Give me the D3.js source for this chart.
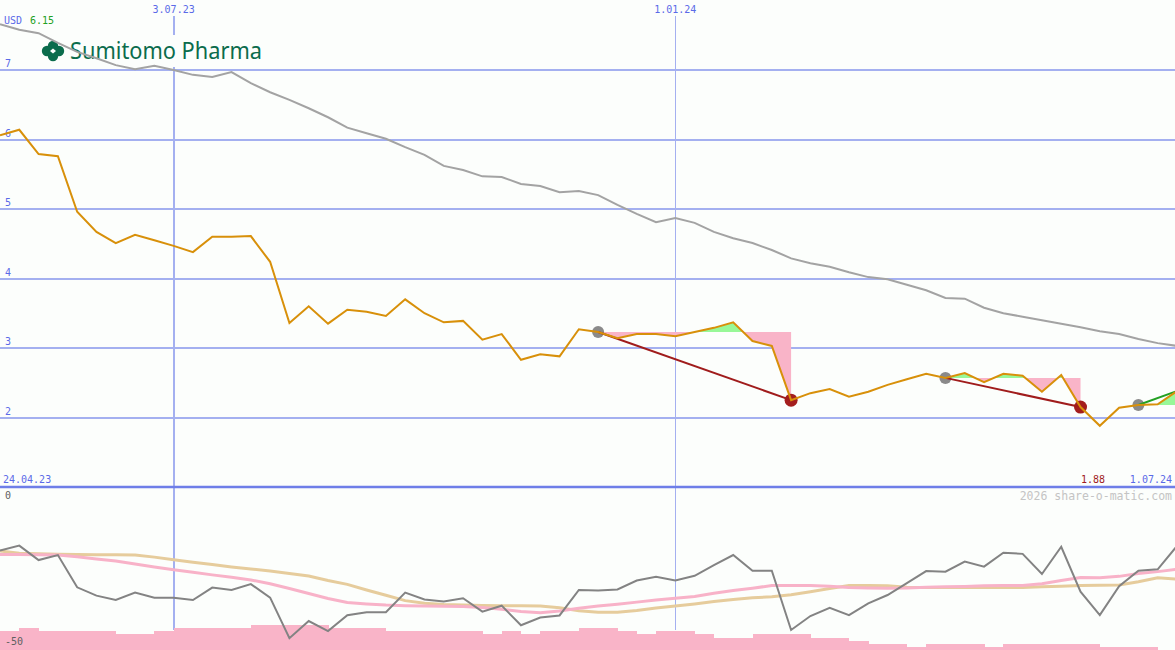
<!DOCTYPE html>
<html>
<head>
<meta charset="utf-8">
<script src="https://cdn.jsdelivr.net/npm/d3@7"></script>
<style>
  html, body { margin: 0; padding: 0; background: #fcfefc; }
  svg { display: block; }
  text { font-family: "DejaVu Sans Mono", monospace; }
</style>
</head>
<body>
<svg id="chart" width="1175" height="650"></svg>
<script>
// ---------- DATA ----------
const dates = ["2023-05-01","2023-05-08","2023-05-15","2023-05-22","2023-05-29","2023-06-05","2023-06-12","2023-06-19","2023-06-26",
"2023-07-03","2023-07-10","2023-07-17","2023-07-24","2023-07-31","2023-08-07","2023-08-14","2023-08-21","2023-08-28",
"2023-09-04","2023-09-11","2023-09-18","2023-09-25","2023-10-02","2023-10-09","2023-10-16","2023-10-23","2023-10-30",
"2023-11-06","2023-11-13","2023-11-20","2023-11-27","2023-12-04","2023-12-11","2023-12-18","2023-12-25",
"2024-01-01","2024-01-08","2024-01-15","2024-01-22","2024-01-29","2024-02-05","2024-02-12","2024-02-19","2024-02-26",
"2024-03-04","2024-03-11","2024-03-18","2024-03-25","2024-04-01","2024-04-08","2024-04-15","2024-04-22","2024-04-29",
"2024-05-06","2024-05-13","2024-05-20","2024-05-27","2024-06-03","2024-06-10","2024-06-17","2024-06-24","2024-07-01"];

const price = [6.06,6.14,5.79,5.76,4.96,4.67,4.51,4.63,4.55,4.47,4.38,4.60,4.60,4.61,4.24,3.36,3.60,3.35,3.55,3.52,
3.46,3.70,3.50,3.37,3.39,3.12,3.20,2.83,2.91,2.88,3.27,3.23,3.14,3.20,3.20,3.17,3.23,3.29,3.37,3.10,
3.03,2.25,2.35,2.41,2.30,2.37,2.47,2.55,2.63,2.57,2.64,2.51,2.63,2.60,2.37,2.61,2.15,1.88,2.14,2.18,2.19,2.38];

const movingAvg = [7.66,7.58,7.53,7.39,7.26,7.17,7.07,7.01,7.06,7.00,6.93,6.90,6.97,6.81,6.68,6.57,6.45,6.32,6.17,6.09,
6.01,5.89,5.78,5.62,5.56,5.47,5.46,5.36,5.33,5.24,5.26,5.20,5.06,4.93,4.81,4.87,4.80,4.67,4.58,4.51,
4.41,4.29,4.22,4.17,4.09,4.02,3.99,3.91,3.83,3.72,3.71,3.58,3.50,3.45,3.40,3.35,3.30,3.24,3.20,3.13,3.07,3.03];

const momentum = [-17.1,-15.4,-20.3,-18.6,-29.5,-32.3,-33.8,-31.3,-33.0,-33.0,-33.8,-29.6,-30.4,-28.4,-33.0,-46.7,-40.9,-44.3,-38.9,-37.9,
-37.9,-31.3,-33.6,-34.3,-33.2,-37.7,-35.7,-42.3,-39.7,-39.0,-30.4,-30.6,-30.2,-27.2,-25.9,-27.2,-25.6,-22.0,-18.6,-23.9,
-23.9,-43.9,-39.2,-36.4,-38.9,-34.9,-32.1,-28.1,-24.0,-24.2,-20.8,-22.5,-17.8,-18.2,-25.0,-15.8,-31.0,-38.9,-29.1,-23.9,-23.4,-15.5];

const momentumAvgFast = [-18.4,-18.4,-18.5,-18.6,-19.2,-19.9,-20.6,-21.6,-22.6,-23.6,-24.4,-25.3,-26.1,-27.0,-28.3,-29.9,-31.6,-33.3,-34.6,-35.1,
-35.5,-35.7,-35.8,-35.9,-36.0,-36.3,-36.9,-37.7,-38.1,-37.5,-36.6,-35.8,-35.2,-34.5,-33.8,-33.2,-32.6,-31.5,-30.6,-29.8,
-28.9,-28.9,-28.9,-29.1,-29.6,-29.7,-29.8,-29.7,-29.5,-29.3,-29.2,-29.0,-28.9,-28.9,-28.3,-27.2,-26.2,-26.3,-25.8,-24.8,-24.2,-23.4];

const momentumAvgSlow = [-17.2,-18.0,-18.2,-18.3,-18.4,-18.5,-18.5,-18.6,-19.3,-20.2,-21.0,-21.8,-22.6,-23.3,-24.0,-24.8,-25.7,-27.2,-28.5,-30.4,
-32.2,-34.0,-34.9,-35.3,-35.5,-35.6,-35.7,-35.7,-35.8,-36.4,-37.4,-37.9,-37.9,-37.3,-36.5,-35.8,-35.1,-34.3,-33.6,-33.0,
-32.7,-32.0,-31.0,-29.9,-28.9,-28.9,-29.0,-29.5,-29.6,-29.6,-29.6,-29.6,-29.6,-29.6,-29.3,-29.1,-28.9,-28.8,-28.7,-27.6,-26.3,-26.7];

const volume = [6,7,6,6,6,6,5,5,6,7,7,7,7,8,8,8,8,7,7,7,
6,6,6,6,6,5,6,5,6,6,7,7,6,5,6,6,5,4,4,5,
5,5,4,4,3,2,2,1,2,2,2,1,2,2,2,2,2,1,1,1,0,0];

// signals: start index, end index, open?
const signalStart = [31, 49, 59];
const signalEnd   = [41, 56, 61];
const signalOpen  = [false, false, true];

const priceTicks = [2, 3, 4, 5, 6, 7];
const dateTicks = ["2023-07-03", "2024-01-01"];
const dateTickLabels = ["3.07.23", "1.01.24"];
const currency = "USD";
const maxLabel = "6.15";
const minLabel = "1.88";
const startLabel = "24.04.23";
const endLabel = "1.07.24";
const lowerTicks = [0, -50];
const companyName = "Sumitomo Pharma";
const credit = "2026 share-o-matic.com";

// ---------- SETUP ----------
const W = 1175, H = 650;
const parse = d3.utcParse("%Y-%m-%d");
const dts = dates.map(parse);
const svg = d3.select("#chart");

const x = d3.scaleUtc().domain([parse("2023-05-01"), parse("2024-07-01")]).range([0, 1177]);
const y = d3.scaleLinear().domain([1, 7]).range([487, 70]);
const y2 = d3.scaleLinear().domain([-50, 0]).range([648, 500]);
const yv = d3.scaleLinear().domain([0, 8]).range([650, 625]);

svg.append("rect").attr("width", W).attr("height", H).attr("fill", "#fcfefc");

const defs = svg.append("defs");
defs.append("clipPath").attr("id", "mainClip").append("rect")
  .attr("x", 0).attr("y", 0).attr("width", W).attr("height", 486);

// ---------- GRID ----------
const gridC = "#a4b0f0";
svg.append("g").attr("shape-rendering", "crispEdges").selectAll("line").data(priceTicks).join("line")
  .attr("x1", 0).attr("x2", W)
  .attr("y1", d => y(d)).attr("y2", d => y(d))
  .attr("stroke", gridC).attr("stroke-width", 2);

svg.append("g").selectAll("text").data(priceTicks).join("text")
  .attr("x", 5).attr("y", d => y(d) - 3)
  .attr("font-size", 10).attr("fill", "#5a6ae8")
  .text(d => d);

const vWidths = [2, 1];
svg.append("g").attr("shape-rendering", "crispEdges").selectAll("line").data(dateTicks).join("line")
  .attr("x1", d => x(parse(d))).attr("x2", d => x(parse(d)))
  .attr("y1", 16).attr("y2", 630)
  .attr("stroke", gridC).attr("stroke-width", (d, i) => vWidths[i]);

svg.append("g").selectAll("text").data(dateTicks).join("text")
  .attr("x", d => x(parse(d))).attr("y", 13)
  .attr("text-anchor", "middle")
  .attr("font-size", 10).attr("fill", "#5a6ae8")
  .text((d, i) => dateTickLabels[i]);

// ---------- LOGO ----------
const logo = svg.append("g");
logo.append("rect").attr("x", 36).attr("y", 35).attr("width", 232).attr("height", 32).attr("fill", "#fcfefc");
const lc = "#0b6c4c";
const cx = 53, cy = 51;
[[-6,0],[6,0],[0,-5],[0,5]].forEach(([dx,dy]) => {
  logo.append("circle").attr("cx", cx+dx).attr("cy", cy+dy).attr("r", 5.2).attr("fill", lc);
});
logo.append("path").attr("d", `M${cx-3},${cy} L${cx},${cy-2.5} L${cx+3},${cy} L${cx},${cy+2.5} Z`).attr("fill", "#fcfefc");
logo.append("text").attr("x", 70).attr("y", 59)
  .attr("font-size", 23).attr("fill", lc)
  .attr("textLength", 192).attr("lengthAdjust", "spacingAndGlyphs")
  .style("font-family", "'Noto Sans', 'Liberation Sans', sans-serif")
  .text(companyName);

// ---------- MAIN PANEL ----------
const main = svg.append("g").attr("clip-path", "url(#mainClip)");

const lineP = d3.line().x((d, i) => x(dts[i])).y(d => y(d));

main.append("path").datum(movingAvg)
  .attr("d", d3.line().x((d, i) => x(dts[i])).y(d => y(d)))
  .attr("fill", "none").attr("stroke", "#a3a3a3").attr("stroke-width", 2);

// signal fills
signalStart.forEach((s, k) => {
  const e = signalEnd[k];
  const lvl = price[s];
  const idx = d3.range(s, e + 1);
  const area = d3.area().x(i => x(dts[i])).y0(y(lvl)).y1(i => y(price[i]));
  const idAbove = "clipA" + k, idBelow = "clipB" + k;
  defs.append("clipPath").attr("id", idAbove).append("rect")
    .attr("x", 0).attr("y", 0).attr("width", W).attr("height", y(lvl));
  defs.append("clipPath").attr("id", idBelow).append("rect")
    .attr("x", 0).attr("y", y(lvl)).attr("width", W).attr("height", H);
  main.append("path").datum(idx).attr("d", area).attr("fill", "#98f898").attr("clip-path", `url(#${idAbove})`);
  main.append("path").datum(idx).attr("d", area).attr("fill", "#f9b4c8").attr("clip-path", `url(#${idBelow})`);
});

// signal markers and lines
signalStart.forEach((s, k) => {
  const e = signalEnd[k];
  main.append("circle").attr("cx", x(dts[s])).attr("cy", y(price[s])).attr("r", 6).attr("fill", "#8a8a8a");
  if (!signalOpen[k]) {
    main.append("circle").attr("cx", x(dts[e])).attr("cy", y(price[e])).attr("r", 6.5).attr("fill", "#a41e1e");
  }
});
signalStart.forEach((s, k) => {
  const e = signalEnd[k];
  main.append("line")
    .attr("x1", x(dts[s])).attr("y1", y(price[s]))
    .attr("x2", x(dts[e])).attr("y2", y(price[e]))
    .attr("stroke", signalOpen[k] ? "#22a022" : "#a01c1c").attr("stroke-width", 2);
});

main.append("path").datum(price).attr("d", lineP)
  .attr("fill", "none").attr("stroke", "#d8900a").attr("stroke-width", 2)
  .attr("stroke-linejoin", "miter");

// ---------- TOP TEXT ----------
svg.append("text").attr("x", 4).attr("y", 24).attr("font-size", 10).attr("fill", "#5a6ae8").text(currency);
svg.append("text").attr("x", 30).attr("y", 24).attr("font-size", 10).attr("fill", "#22a022").text(maxLabel);

// ---------- AXIS LINE ----------
svg.append("line").attr("x1", 0).attr("x2", W).attr("y1", 487).attr("y2", 487)
  .attr("stroke", "#6e7ee8").attr("stroke-width", 2.5);
svg.append("text").attr("x", 3).attr("y", 483).attr("font-size", 10).attr("fill", "#5a6ae8").text(startLabel);
svg.append("text").attr("x", 1172).attr("y", 483).attr("text-anchor", "end").attr("font-size", 10).attr("fill", "#5a6ae8").text(endLabel);
svg.append("text").attr("x", 1105).attr("y", 483).attr("text-anchor", "end").attr("font-size", 10).attr("fill", "#a01c1c").text(minLabel);
svg.append("text").attr("x", 1172).attr("y", 500).attr("text-anchor", "end").attr("font-size", 11.5).attr("fill", "#c4c4c4").text(credit);

// ---------- LOWER PANEL ----------
const vol = svg.append("g").attr("shape-rendering", "crispEdges");
vol.selectAll("rect").data(volume).join("rect")
  .attr("x", (d, i) => x(dts[i]))
  .attr("width", (d, i) => (i < dts.length - 1 ? x(dts[i + 1]) - x(dts[i]) : 20) + 0.5)
  .attr("y", d => yv(d))
  .attr("height", d => 650 - yv(d))
  .attr("fill", "#f9b4c8");

const line2 = d3.line().x((d, i) => x(dts[i])).y(d => y2(d));
svg.append("path").datum(momentumAvgSlow).attr("d", line2)
  .attr("fill", "none").attr("stroke", "#e6cc9c").attr("stroke-width", 3);
svg.append("path").datum(momentumAvgFast).attr("d", line2)
  .attr("fill", "none").attr("stroke", "#f8b2c8").attr("stroke-width", 3);
svg.append("path").datum(momentum).attr("d", line2)
  .attr("fill", "none").attr("stroke", "#838383").attr("stroke-width", 2);

svg.append("g").selectAll("text").data(lowerTicks).join("text")
  .attr("x", 5).attr("y", d => d === 0 ? 499 : 645)
  .attr("font-size", 10).attr("fill", "#606060")
  .text(d => d);
</script>
</body>
</html>
